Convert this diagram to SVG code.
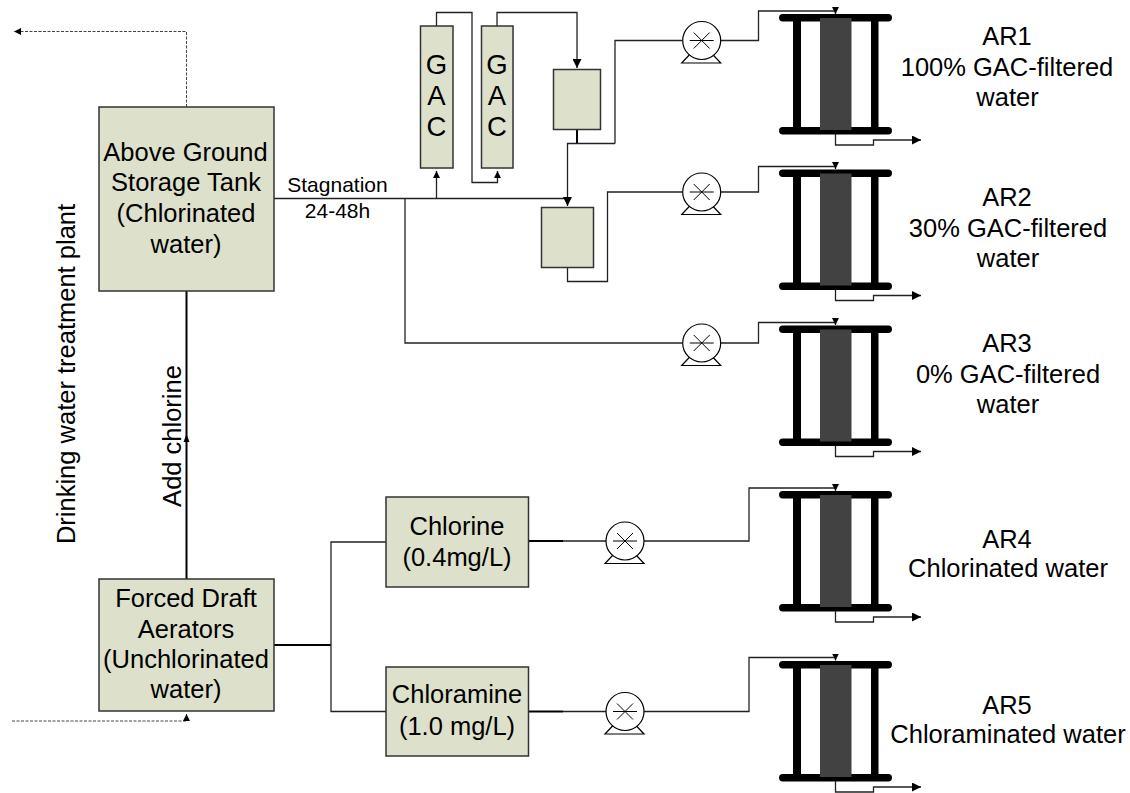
<svg xmlns="http://www.w3.org/2000/svg" width="1130" height="793" viewBox="0 0 1130 793">
<style>
text{font-family:"Liberation Sans",Arial,sans-serif;fill:#000;text-anchor:middle}
.t{font-size:25.500px}.g{font-size:27.500px}.s{font-size:21px}
.box{fill:#dde1cb;stroke:#333;stroke-width:1.5}
.c{fill:none;stroke:#222;stroke-width:1.3}
.k{fill:none;stroke:#000;stroke-width:2}
.d{fill:none;stroke:#444;stroke-width:1;stroke-dasharray:3 1.5}
.bar{fill:#000}
.core{fill:#424242}
.p{fill:#fff;stroke:#000;stroke-width:1.2}
</style>
<defs>
<marker id="a" viewBox="0 0 10 10" refX="10" refY="5" markerWidth="7" markerHeight="7" markerUnits="userSpaceOnUse" orient="auto"><path d="M0 0L10 5L0 10Z" fill="#000"/></marker>
<marker id="b" viewBox="0 0 10 10" refX="10" refY="5" markerWidth="9" markerHeight="9" markerUnits="userSpaceOnUse" orient="auto"><path d="M0 0L10 5L0 10Z" fill="#000"/></marker>
<g id="reactor">
<rect class="bar" x="779" y="14" width="113" height="7.5" rx="3.7"/>
<rect class="bar" x="779" y="127" width="113" height="7.5" rx="3.7"/>
<rect class="bar" x="793" y="18" width="8" height="112"/>
<rect class="bar" x="871" y="18" width="7.5" height="112"/>
<rect class="core" x="820" y="18" width="31.5" height="112"/>
<path class="c" d="M835.5 134V145H873.5V140H921" marker-end="url(#b)"/>
</g>
<g id="pump">
<path class="p" d="M-12 14L-20 22.500H19L11 14"/>
<circle class="p" cx="0" cy="0" r="19"/>
<path fill="none" stroke="#000" stroke-width="1" d="M-12 0H12M-8 -8L8 8M-8 8L8 -8"/>
</g>
</defs>
<g id="connectors">
<path class="d" d="M186.500 107V31.500H14" marker-end="url(#a)"/>
<path class="d" d="M12 721H186.500V714" marker-end="url(#a)"/>
<path class="k" d="M186.500 579V291"/>
<path fill="#000" d="M186.500 434L189.500 442H183.500Z"/>
<path class="c" d="M274 198.500H568"/>
<path class="c" d="M405 198.500V343H682"/>
<path class="c" d="M436.500 198.500V171" marker-end="url(#a)"/>
<path class="c" d="M436.500 26V12.500H472V182.500H497.500V171" marker-end="url(#a)"/>
<path class="c" d="M497 26V12.500H577V68" marker-end="url(#b)"/>
<path class="k" d="M577 129.500V143.500"/>
<path class="c" d="M615 143.500H567.500V206" marker-end="url(#b)"/>
<path class="c" d="M615 143.500V40.500H682"/>
<path class="c" d="M567.500 267.500V281.500H607.500V192H682"/>
<path class="c" d="M721 40.500H758.500V11H835.500V14" marker-end="url(#a)"/>
<path class="c" d="M721 192H758.500V166.500H835.500V169" marker-end="url(#a)"/>
<path class="c" d="M721 343H758.500V322.500H835.500V325" marker-end="url(#a)"/>
<path class="k" d="M274 645H331"/>
<path class="c" d="M331 645V542H386M331 645V711.500H386"/>
<path class="k" d="M529 541H563"/>
<path class="k" d="M529 711.500H563"/>
<path class="c" d="M563 541H606M644 541H749V488H835.500V491" marker-end="url(#a)"/>
<path class="c" d="M563 711.500H606M644 711.500H749V657.500H835.500V660.500" marker-end="url(#a)"/>
</g>
<g id="storage-tank"><rect class="box" x="99" y="107" width="175" height="184"/>
<text class="t" x="185.500" y="161">Above Ground</text><text class="t" x="186" y="191">Storage Tank</text><text class="t" x="186" y="222">(Chlorinated</text><text class="t" x="186" y="253">water)</text></g>
<g id="aerators"><rect class="box" x="99" y="579" width="175" height="132"/>
<text class="t" x="186" y="607">Forced Draft</text><text class="t" x="186" y="638">Aerators</text><text class="t" x="186" y="668">(Unchlorinated</text><text class="t" x="186" y="698">water)</text></g>
<g id="gac1"><rect class="box" x="420.500" y="26" width="32.500" height="142"/>
<text class="g" x="436.500" y="74">G</text><text class="g" x="436.500" y="105">A</text><text class="g" x="436.500" y="136">C</text></g>
<g id="gac2"><rect class="box" x="481.500" y="26" width="31.500" height="142"/>
<text class="g" x="497" y="74">G</text><text class="g" x="497" y="105">A</text><text class="g" x="497" y="136">C</text></g>
<g id="tank1"><rect class="box" x="553.500" y="69.500" width="47" height="60"/></g>
<g id="tank2"><rect class="box" x="541.500" y="207.500" width="52" height="60"/></g>
<g id="chlorine"><rect class="box" x="386" y="497" width="142.500" height="90"/>
<text class="t" x="457" y="535">Chlorine</text><text class="t" x="457" y="566">(0.4mg/L)</text></g>
<g id="chloramine"><rect class="box" x="386" y="667" width="142.500" height="89"/>
<text class="t" x="457" y="703">Chloramine</text><text class="t" x="457" y="735">(1.0 mg/L)</text></g>
<g id="pump1"><use href="#pump" x="701.700" y="40.500"/></g>
<g id="pump2"><use href="#pump" x="701.700" y="192"/></g>
<g id="pump3"><use href="#pump" x="701.700" y="343"/></g>
<g id="pump4"><use href="#pump" x="625" y="541"/></g>
<g id="pump5"><use href="#pump" x="625" y="711.500"/></g>
<g id="ar1"><use href="#reactor"/><text class="t" x="1007" y="45">AR1</text><text class="t" x="1007" y="76">100% GAC-filtered</text><text class="t" x="1007.500" y="106">water</text></g>
<g id="ar2"><use href="#reactor" y="155.500"/><text class="t" x="1007" y="206">AR2</text><text class="t" x="1008" y="237">30% GAC-filtered</text><text class="t" x="1008" y="267">water</text></g>
<g id="ar3"><use href="#reactor" y="311.500"/><text class="t" x="1007" y="352">AR3</text><text class="t" x="1008" y="383">0% GAC-filtered</text><text class="t" x="1008" y="413">water</text></g>
<g id="ar4"><use href="#reactor" y="477"/><text class="t" x="1007" y="548">AR4</text><text class="t" x="1008" y="577">Chlorinated water</text></g>
<g id="ar5"><use href="#reactor" y="647"/><text class="t" x="1007" y="714">AR5</text><text class="t" x="1008" y="743">Chloraminated water</text></g>
<text class="s" x="337.500" y="192">Stagnation</text>
<text class="s" x="337.500" y="217.500">24-48h</text>
<text class="t" transform="translate(181,436) rotate(-90)">Add chlorine</text>
<text class="t" transform="translate(75,374) rotate(-90)">Drinking water treatment plant</text>
</svg>
